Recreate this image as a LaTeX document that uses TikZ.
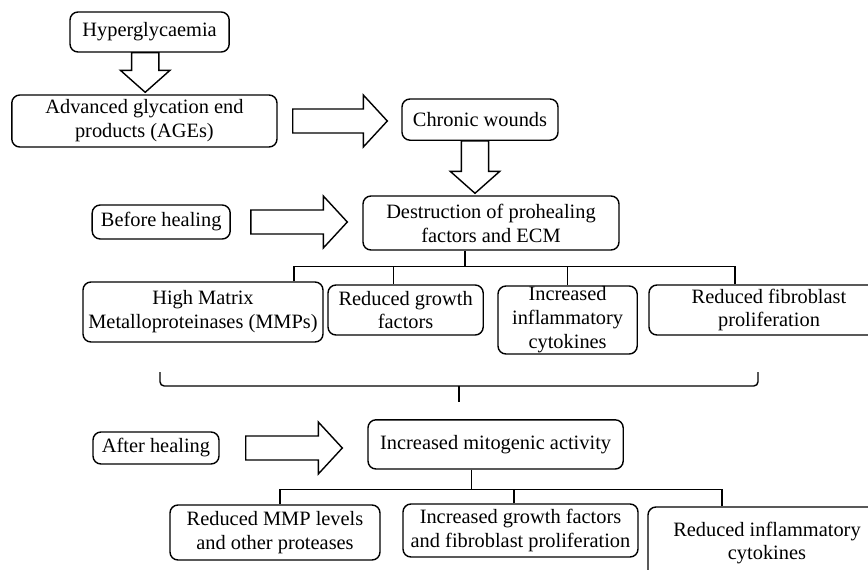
\documentclass[tikz,border=0pt]{standalone}
\usepackage{fontspec}
\setmainfont{Liberation Serif}
\usetikzlibrary{calc}

\begin{document}
\begin{tikzpicture}
\tikzstyle{box} = [rectangle, rounded corners=0.2cm, draw=black, line width=1pt, align=center, inner sep=0pt, font=\fontsize{14.5}{17}\selectfont]
\tikzstyle{edge} = [draw=black, line width=1pt]
\tikzstyle{rarrow} = [draw=black, line width=1pt, to path={let \p1=(\tikztostart), \p2=(\tikztotarget) in
  (\x1,\y1+0.3cm) -- (\x2-0.6cm,\y1+0.3cm) -- (\x2-0.6cm,\y1+0.65cm) -- (\x2,\y1) -- (\x2-0.6cm,\y1-0.65cm) -- (\x2-0.6cm,\y1-0.3cm) -- (\x1,\y1-0.3cm) -- cycle}]
\tikzstyle{darrow} = [draw=black, line width=1pt, to path={let \p1=(\tikztostart), \p2=(\tikztotarget) in
  (\x1-0.34cm,\y1) -- (\x1-0.34cm,\y2+0.55cm) -- (\x1-0.62cm,\y2+0.55cm) -- (\x1,\y2) -- (\x1+0.62cm,\y2+0.55cm) -- (\x1+0.34cm,\y2+0.55cm) -- (\x1+0.34cm,\y1) -- cycle}]

\useasboundingbox (0,0) rectangle (21.7,-14.225);

\node[box, minimum width=3.98cm, minimum height=1.0cm] (hyper) at (3.74,-0.8) {Hyperglycaemia};
\node[box, minimum width=6.63cm, minimum height=1.3cm] (ages) at (3.61,-3.025) {Advanced glycation end\\products (AGEs)};
\node[box, minimum width=3.9cm, minimum height=1.03cm] (chronic) at (12.0,-2.99) {Chronic wounds};
\node[box, minimum width=3.45cm, minimum height=0.85cm] (before) at (4.03,-5.55) {Before healing};
\node[box, minimum width=6.4cm, minimum height=1.35cm] (destr) at (12.275,-5.575) {Destruction of prohealing\\factors and ECM};

\node[box, minimum width=6.0cm, minimum height=1.5cm] (mmps) at (5.075,-7.8) {High Matrix\\Metalloproteinases (MMPs)};
\node[box, minimum width=3.88cm, minimum height=1.25cm] (growth) at (10.14,-7.75) {Reduced growth\\factors};
\node[box, minimum width=3.48cm, minimum height=1.7cm] (cyto) at (14.19,-8.0) {Increased\\inflammatory\\cytokines};
\node[box, minimum width=6.0cm, minimum height=1.25cm] (fibro) at (19.225,-7.75) {Reduced fibroblast\\proliferation};

\node[box, minimum width=3.15cm, minimum height=0.8cm] (after) at (3.9,-11.2) {After healing};
\node[box, minimum width=6.38cm, minimum height=1.23cm] (mitogen) at (12.39,-11.11) {Increased mitogenic activity};

\node[box, minimum width=5.25cm, minimum height=1.375cm] (mmplev) at (6.875,-13.3125) {Reduced MMP levels\\and other proteases};
\node[box, minimum width=5.875cm, minimum height=1.325cm] (incgrowth) at (13.0125,-13.2625) {Increased growth factors\\and fibroblast proliferation};
\node[box, minimum width=5.95cm, minimum height=1.8cm] (redinfl) at (19.175,-13.575) {Reduced inflammatory\\cytokines};

% block arrows
\draw[darrow] ([xshift=-0.11cm]hyper.south) to ([yshift=0.05cm]ages.north);
\draw[rarrow] ([xshift=0.375cm]ages.east) to ([xshift=-0.35cm]chronic.west);
\draw[darrow] ([xshift=-0.125cm]chronic.south) to ([yshift=0.05cm]destr.north);
\draw[rarrow] ([xshift=0.5cm]before.east) to ([xshift=-0.375cm]destr.west);
\draw[rarrow] ([xshift=0.65cm]after.east) to ([xshift=-0.625cm]mitogen.west);

% branches
\draw[edge] ([xshift=-0.65cm]destr.south) -- ++(0,-0.4) coordinate (bus1);
\draw[edge] ([xshift=2.275cm]mmps.north) |- (bus1);
\draw[edge] ([xshift=-0.31cm]growth.north) |- (bus1);
\draw[edge] (cyto.north) |- (bus1);
\draw[edge] ([xshift=-0.85cm]fibro.north) |- (bus1);

\draw[edge] ([xshift=-0.6cm]mitogen.south) -- ++(0,-0.5) coordinate (bus2);
\draw[edge] ([xshift=0.125cm]mmplev.north) |- (bus2);
\draw[edge] ([xshift=-0.16cm]incgrowth.north) |- (bus2);
\draw[edge] ([xshift=-1.125cm]redinfl.north) |- (bus2);

% bracket
\coordinate (brL) at (4.0,-9.3);
\coordinate (brR) at (18.95,-9.3);
\coordinate (brY) at (11.475,-9.65);
\coordinate (brT) at (11.475,-10.05);
\draw[edge, rounded corners=3pt] (brL) |- (brY) -| (brR);
\draw[edge] (brY) -- (brT);
\end{tikzpicture}
\end{document}
